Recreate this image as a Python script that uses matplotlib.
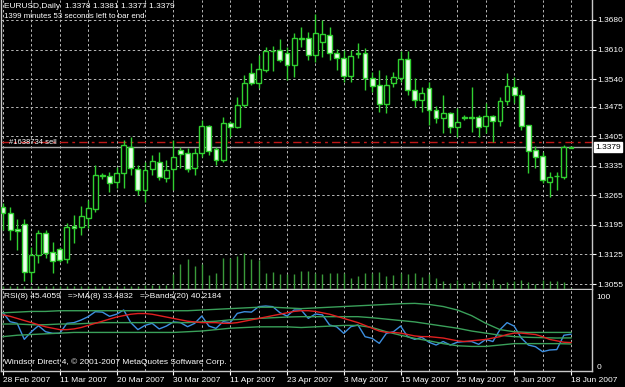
import matplotlib.pyplot as plt
import numpy as np

plt.rcParams['font.family'] = ['Liberation Sans', 'DejaVu Sans']

# daily EURUSD bars, 28 Feb 2007 .. 18 Jun 2007
opens = [1.3237, 1.3223, 1.3185, 1.3197, 1.3083, 1.3124, 1.3176, 1.3131, 1.3138, 1.3114,
         1.3192, 1.3190, 1.3211, 1.3233, 1.3311, 1.3311, 1.3297, 1.3318, 1.3379, 1.3327,
         1.3278, 1.3327, 1.3344, 1.3306, 1.3327, 1.3372, 1.3365, 1.3330, 1.3365, 1.3429,
         1.3375, 1.3349, 1.3436, 1.3427, 1.3479, 1.3555, 1.3531, 1.3562, 1.3607, 1.3609,
         1.3602, 1.3573, 1.3635, 1.3637, 1.3597, 1.3628, 1.3644, 1.3602, 1.3590, 1.3547,
         1.3602, 1.3602, 1.3543, 1.3526, 1.3481, 1.3531, 1.3543, 1.3588, 1.3514, 1.3491,
         1.3519, 1.3467, 1.3448, 1.3460, 1.3427, 1.3451, 1.3450, 1.3450, 1.3429, 1.3453,
         1.3441, 1.3488, 1.3521, 1.3502, 1.3431, 1.3372, 1.3358, 1.3297, 1.3311, 1.3308,
         1.3378]
highs = [1.3247, 1.3237, 1.3209, 1.3209, 1.3143, 1.3183, 1.3183, 1.3155, 1.3143, 1.3199,
         1.3218, 1.3240, 1.3254, 1.3337, 1.3318, 1.3320, 1.3332, 1.3396, 1.3403, 1.3337,
         1.3344, 1.3360, 1.3368, 1.3349, 1.3396, 1.3379, 1.3377, 1.3377, 1.3443, 1.3431,
         1.3379, 1.3450, 1.3441, 1.3498, 1.3550, 1.3578, 1.3597, 1.3616, 1.3618, 1.3635,
         1.3616, 1.3649, 1.3663, 1.3652, 1.3694, 1.3680, 1.3663, 1.3611, 1.3609, 1.3609,
         1.3626, 1.3614, 1.3557, 1.3562, 1.3550, 1.3557, 1.3607, 1.3607, 1.3543, 1.3521,
         1.3533, 1.3476, 1.3502, 1.3462, 1.3472, 1.3455, 1.3521, 1.3455, 1.3484, 1.3455,
         1.3498, 1.3555, 1.3545, 1.3514, 1.3431, 1.3382, 1.3368, 1.3320, 1.3320, 1.3384,
         1.3381]
lows = [1.3183, 1.3159, 1.3136, 1.3062, 1.3060, 1.3105, 1.3117, 1.3081, 1.3107, 1.3105,
        1.3152, 1.3171, 1.3188, 1.3226, 1.3304, 1.3273, 1.3282, 1.3282, 1.3313, 1.3266,
        1.3249, 1.3313, 1.3301, 1.3297, 1.3278, 1.3330, 1.3320, 1.3313, 1.3356, 1.3360,
        1.3337, 1.3344, 1.3403, 1.3424, 1.3474, 1.3526, 1.3519, 1.3557, 1.3559, 1.3581,
        1.3538, 1.3545, 1.3616, 1.3585, 1.3581, 1.3592, 1.3585, 1.3562, 1.3533, 1.3533,
        1.3590, 1.3514, 1.3510, 1.3462, 1.3460, 1.3521, 1.3533, 1.3502, 1.3474, 1.3462,
        1.3431, 1.3436, 1.3412, 1.3412, 1.3403, 1.3443, 1.3415, 1.3403, 1.3412, 1.3391,
        1.3429, 1.3479, 1.3484, 1.3420, 1.3318, 1.3330, 1.3294, 1.3261, 1.3278, 1.3304,
        1.3377]
closes = [1.3223, 1.3183, 1.3181, 1.3083, 1.3124, 1.3176, 1.3128, 1.3110, 1.3112, 1.3190,
          1.3188, 1.3216, 1.3235, 1.3313, 1.3312, 1.3294, 1.3318, 1.3384, 1.3330, 1.3278,
          1.3325, 1.3346, 1.3308, 1.3325, 1.3356, 1.3363, 1.3327, 1.3365, 1.3429, 1.3370,
          1.3349, 1.3436, 1.3427, 1.3479, 1.3531, 1.3531, 1.3564, 1.3607, 1.3606, 1.3585,
          1.3573, 1.3637, 1.3637, 1.3597, 1.3649, 1.3647, 1.3602, 1.3590, 1.3547, 1.3595,
          1.3600, 1.3543, 1.3524, 1.3481, 1.3526, 1.3545, 1.3588, 1.3514, 1.3491, 1.3507,
          1.3467, 1.3448, 1.3460, 1.3427, 1.3439, 1.3449, 1.3448, 1.3427, 1.3453, 1.3441,
          1.3488, 1.3524, 1.3502, 1.3429, 1.3370, 1.3356, 1.3301, 1.3308, 1.3310, 1.3379,
          1.3379]
volumes = [300, 300, 300, 300, 300, 300, 300, 300, 300, 300,
           300, 300, 300, 300, 300, 300, 300, 300, 300, 300,
           400, 400, 400, 400, 1500, 2500, 3000, 2300, 2500, 1400,
           1600, 3100, 3100, 3300, 3600, 3000, 2900, 1600, 1700, 1500,
           1500, 1500, 1800, 1800, 1600, 1500, 1600, 1600, 1600, 1100,
           1300, 1600, 1600, 1700, 1300, 1400, 1600, 1500, 1600, 1200,
           1500, 1100, 800, 600, 900, 600, 700, 800, 600, 1000,
           500, 700, 800, 900, 700, 500, 900, 800, 800, 700,
           100]

# RSI(8) and its MA(8), one value per bar
rsi = [76.2, 63.3, 61.0, 38.1, 49.0, 57.6, 49.0, 46.7, 46.7, 61.0,
       62.0, 65.7, 70.5, 77.6, 77.0, 71.0, 74.0, 80.0, 62.0, 52.0,
       58.0, 61.0, 53.0, 57.0, 63.0, 62.0, 56.2, 61.0, 71.4, 57.1,
       53.8, 63.3, 62.0, 75.2, 77.6, 77.0, 84.8, 85.7, 84.8, 76.2,
       71.4, 80.0, 80.0, 68.1, 74.3, 73.0, 58.6, 56.0, 46.7, 56.2,
       58.6, 41.9, 39.5, 32.4, 46.7, 49.0, 57.1, 41.9, 38.1, 41.0,
       34.0, 30.0, 35.0, 30.0, 34.0, 35.0, 35.0, 31.0, 38.0, 35.0,
       52.0, 62.0, 57.0, 40.0, 30.0, 27.6, 20.5, 22.9, 23.5, 44.0,
       45.4]
rsi_ma = [73, 71, 68, 65, 62, 59, 56, 54, 52, 52,
          53, 55, 58, 61, 64, 67, 70, 72, 74, 75,
          75, 74, 72, 70, 68, 66, 64, 63, 62, 62,
          62, 61, 61, 62, 64, 66, 68, 70, 72, 74,
          76, 78, 79, 79, 78, 76, 74, 71, 68, 65,
          62, 58, 54, 50, 48, 48, 47, 45, 43, 42,
          42, 41, 40, 38, 36, 35, 36, 37, 38, 40,
          42, 45, 47, 47, 46, 45, 42, 38, 36, 34,
          33.5]
# Bollinger Bands(20) on RSI, read every second bar
band_up = [76, 77, 78, 78, 79, 79, 79, 79, 79, 79,
           79, 79, 79, 79, 80, 81, 82, 83, 84, 84,
           83, 82, 83, 84, 85, 86, 87, 88, 89, 89.5,
           88, 85, 80, 72, 61, 52, 49, 48, 48, 48,
           48]
band_mid = [60, 60, 59, 59, 60, 60, 61, 62, 62, 62,
            62, 62, 62, 62, 63, 64, 66, 67, 68, 69,
            70, 70.5, 70.5, 70.5, 70.5, 70.5, 69, 67, 65, 63,
            60, 57, 54, 50, 47, 44, 42, 41, 40.5, 40,
            40.2]
band_low = [42, 44, 45, 46, 47, 48, 48, 48, 48, 48,
            48, 48, 48, 49, 50, 52, 54, 55, 56, 56,
            56, 55, 56, 57, 58, 58, 55, 49, 44, 39.5,
            36, 32, 29, 28, 28, 30, 32, 32, 32, 32,
            31.5]

date_labels = ['28 Feb 2007', '11 Mar 2007', '20 Mar 2007', '30 Mar 2007', '11 Apr 2007',
               '23 Apr 2007', '3 May 2007', '15 May 2007', '25 May 2007', '6 Jun 2007',
               '18 Jun 2007']
price_ticks = [1.3680, 1.3610, 1.3540, 1.3475, 1.3405, 1.3335, 1.3265, 1.3195, 1.3125, 1.3055]
sell_price = 1.3391
bid = 1.3379

W, H = 625, 387
fig = plt.figure(figsize=(W / 100, H / 100), dpi=100, facecolor='black')

def frac(x0, y0, x1, y1):
    return [x0 / W, 1 - y1 / H, (x1 - x0) / W, (y1 - y0) / H]

ax = fig.add_axes(frac(1, 0, 592, 289), facecolor='black')
ax2 = fig.add_axes(frac(1, 290, 592, 371), facecolor='black')

n = len(closes)
x = np.arange(n)
grid_kw = dict(color='#b8b8b8', lw=0.7, ls=(0, (2.5, 2.5)))
for a in (ax, ax2):
    a.set_xlim(-0.28, 82.96)
    for xv in range(0, n, 4):
        a.axvline(xv, zorder=0, **grid_kw)
    for s in a.spines.values():
        s.set_color('#c8c8c8')
        s.set_linewidth(1)
    a.spines['top'].set_visible(False)

ax.set_ylim(1.30432, 1.37273)
for p in price_ticks:
    ax.axhline(p, zorder=0, **grid_kw)

# volumes
axv = ax.twinx()
axv.set_ylim(0, 28900)
axv.vlines(x, 0, volumes, color='#3a9a3a', lw=1)
axv.axis('off')

# candles
green = '#30d030'
ax.vlines(x, lows, highs, color=green, lw=1.0, zorder=3)
o = np.array(opens)
c = np.array(closes)
bottoms = np.minimum(o, c)
heights = np.abs(c - o)
faces = ['black' if cc > oo else '#eaffea' for oo, cc in zip(o, c)]
ax.bar(x, heights, 0.68, bottom=bottoms, color=faces, edgecolor=green,
       linewidth=1.0, zorder=4)

ax.axhline(sell_price, color='#c01818', lw=1, ls=(0, (6, 3, 2, 3)), zorder=2)
ax.axhline(bid, color='#a8a8a8', lw=1, zorder=2)
ax.text(0.8, sell_price, '#1638734 sell', color='white', fontsize=5.5,
        va='center', ha='left', zorder=6)

ax.yaxis.tick_right()
ax.set_yticks(price_ticks)
ax.set_yticklabels(['%.4f' % p for p in price_ticks])
ax.tick_params(axis='y', colors='white', labelsize=6, length=3, width=0.8, pad=1)
ax.tick_params(axis='x', bottom=False, labelbottom=False)
ax.text(1.005, bid, '%.4f' % bid, transform=ax.get_yaxis_transform(),
        color='black', fontsize=6, va='center', ha='left',
        bbox=dict(boxstyle='square,pad=0.15', fc='white', ec='white'))

ax.text(4 / W, 1 - 6 / H, 'EURUSD,Daily  1.3378 1.3381 1.3377 1.3379',
        transform=fig.transFigure, color='white', fontsize=6, va='center')
ax.text(4 / W, 1 - 17 / H, '1399 minutes 53 seconds left to bar end',
        transform=fig.transFigure, color='white', fontsize=5.7, va='center')

# RSI panel
ax2.set_ylim(-7.1, 108.6)
ax2.plot(x, rsi, color='#3d8fe0', lw=1)
xb = np.arange(0, n, 2)
ax2.plot(xb, band_up, color='#3aa05a', lw=1)
ax2.plot(xb, band_mid, color='#3aa05a', lw=1)
ax2.plot(xb, band_low, color='#3aa05a', lw=1)
ax2.plot(x, rsi_ma, color='#e02020', lw=1)
ax2.yaxis.tick_right()
ax2.set_yticks([0, 100])
ax2.tick_params(axis='y', colors='white', labelsize=6, length=0, pad=3)
ax2.set_xticks(range(0, n, 8))
ax2.set_xticklabels(date_labels)
for lbl in ax2.get_xticklabels():
    lbl.set_ha('left')
ax2.tick_params(axis='x', colors='white', labelsize=6, length=3, width=0.8, pad=1)
ax2.text(4 / W, 1 - 297 / H, 'RSI(8) 45.4059   =>MA(8) 33.4832   =>Bands(20) 40.2184',
         transform=fig.transFigure, color='white', fontsize=6, va='center')
ax2.text(4 / W, 1 - 362 / H, 'Windsor Direct 4, \u00a9 2001-2007 MetaQuotes Software Corp.',
         transform=fig.transFigure, color='white', fontsize=6, va='center')

fig.savefig('out.png', dpi=100, facecolor='black')
